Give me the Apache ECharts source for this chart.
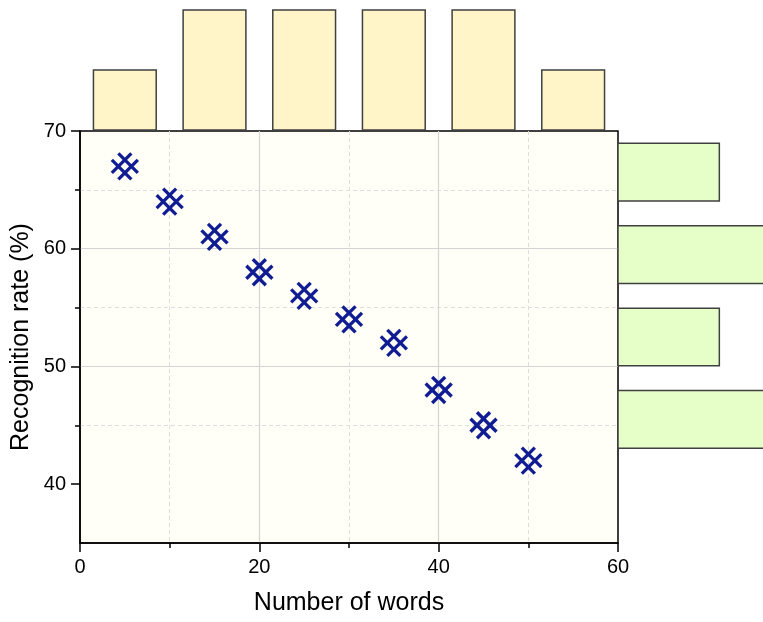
<!DOCTYPE html>
<html>
<head>
<meta charset="utf-8">
<script src="https://cdn.jsdelivr.net/npm/echarts@6/dist/echarts.min.js"></script>
<style>
  html, body { margin: 0; padding: 0; background: #ffffff; }
  #chart { width: 763px; height: 622px; }
</style>
</head>
<body>
<div id="chart"></div>
<script>
// Scatter data: recognition rate against vocabulary size
const words = [5, 10, 15, 20, 25, 30, 35, 40, 45, 50];
const rate  = [67, 64, 61, 58, 56, 54, 52, 48, 45, 42];

// Marginal histogram along x (bin edges and counts)
const xBinEdges = [0, 10, 20, 30, 40, 50, 60];
const xCounts   = [1, 2, 2, 2, 2, 1];

// Marginal histogram along y (bin edges and counts)
const yBinEdges = [42, 49, 56, 63, 70];
const yCounts   = [3, 2, 3, 2];

// Axis ticks
const xTicks = [0, 20, 40, 60];
const yTicks = [40, 50, 60, 70];
const yMinorTicks = [45, 55, 65];

const FONT = '"Liberation Sans", Arial, sans-serif';
const BAR_FRACTION = 0.7;

const scatterData = words.map((w, i) => [w, rate[i]]);
const xHistData = xCounts.map((c, i) => [xBinEdges[i], xBinEdges[i + 1], c]);
const yHistData = yCounts.map((c, i) => [yBinEdges[i], yBinEdges[i + 1], c]);

// Lattice marker: two strokes in each diagonal direction
function renderMarker(params, api) {
  const p = api.coord([api.value(0), api.value(1)]);
  const h = 13, d = 6.5;
  const segs = [
    [[-h + d, -h], [h, h - d]],
    [[-h, -h + d], [h - d, h]],
    [[h - d, -h], [-h, h - d]],
    [[h, -h + d], [-h + d, h]]
  ];
  return {
    type: 'group',
    children: segs.map(s => ({
      type: 'line',
      shape: { x1: p[0] + s[0][0], y1: p[1] + s[0][1], x2: p[0] + s[1][0], y2: p[1] + s[1][1] },
      style: { stroke: '#101c92', lineWidth: 3.3, lineCap: 'butt' }
    }))
  };
}

function renderTopBar(params, api) {
  const lo = api.value(0), hi = api.value(1), c = api.value(2);
  const mid = (lo + hi) / 2, half = (hi - lo) * BAR_FRACTION / 2;
  const a = api.coord([mid - half, c]);
  const b = api.coord([mid + half, 0]);
  return {
    type: 'rect',
    shape: { x: a[0], y: a[1], width: b[0] - a[0], height: b[1] - a[1] },
    style: { fill: '#FFF5C8', stroke: '#404040', lineWidth: 1.5 }
  };
}

function renderSideBar(params, api) {
  const lo = api.value(0), hi = api.value(1), c = api.value(2);
  const mid = (lo + hi) / 2, half = (hi - lo) * BAR_FRACTION / 2;
  const a = api.coord([0, mid + half]);
  const b = api.coord([c, mid - half]);
  return {
    type: 'rect',
    shape: { x: a[0], y: a[1], width: b[0] - a[0], height: b[1] - a[1] },
    style: { fill: '#E6FFC8', stroke: '#404040', lineWidth: 1.5 }
  };
}

const chart = echarts.init(document.getElementById('chart'), null, { renderer: 'canvas' });

const option = {
  animation: false,
  backgroundColor: '#ffffff',
  textStyle: { fontFamily: FONT },
  grid: [
    { left: 80, top: 131, width: 538, height: 412, show: true, outerBoundsMode: 'none',
      backgroundColor: '#FFFEF7', borderColor: '#000000', borderWidth: 1.5 },
    { left: 80, top: 10, width: 538, height: 120, outerBoundsMode: 'none' },
    { left: 618, top: 131, width: 152, height: 412, outerBoundsMode: 'none' }
  ],
  xAxis: [
    {
      gridIndex: 0, type: 'value', min: 0, max: 60, interval: 20,
      name: 'Number of words', nameLocation: 'middle', nameGap: 48,
      nameTextStyle: { fontFamily: FONT, fontSize: 25, color: '#000' },
      axisLine: { show: true, lineStyle: { color: '#000', width: 1.5 } },
      axisTick: { show: true, inside: false, length: 9, lineStyle: { color: '#000', width: 1.5 } },
      minorTick: { show: true, splitNumber: 2, length: 5, lineStyle: { color: '#000', width: 1.5 } },
      axisLabel: { fontFamily: FONT, fontSize: 20, color: '#000', margin: 14,
        customValues: xTicks },
      splitLine: { show: true, showMinLine: false, showMaxLine: false,
        lineStyle: { color: '#d4d4d4', width: 1.2 } },
      minorSplitLine: { show: true, lineStyle: { color: '#dedede', width: 1, type: [4, 3] } }
    },
    { gridIndex: 1, type: 'value', min: 0, max: 60, show: false },
    { gridIndex: 2, type: 'value', min: 0, max: 3, show: false }
  ],
  yAxis: [
    {
      gridIndex: 0, type: 'value', min: 35, max: 70, interval: 5,
      name: 'Recognition rate (%)', nameLocation: 'middle', nameGap: 46,
      nameMoveOverlap: false,
      nameTextStyle: { fontFamily: FONT, fontSize: 25, color: '#000' },
      axisLine: { show: true, lineStyle: { color: '#000', width: 1.5 } },
      axisTick: { show: true, inside: false, length: 9, customValues: yTicks,
        lineStyle: { color: '#000', width: 1.5 } },
      axisLabel: { fontFamily: FONT, fontSize: 20, color: '#000', margin: 14,
        customValues: yTicks },
      splitLine: { show: true, showMinLine: false, showMaxLine: false,
        lineStyle: { color: '#d4d4d4', width: 1.2 } }
    },
    {
      gridIndex: 0, type: 'value', min: 35, max: 70, interval: 5, position: 'left',
      axisLine: { show: false },
      axisTick: { show: true, inside: false, length: 5, customValues: yMinorTicks,
        lineStyle: { color: '#000', width: 1.5 } },
      axisLabel: { show: false },
      splitLine: { show: true, lineStyle: { color: '#dedede', width: 1, type: [4, 3] } }
    },
    { gridIndex: 1, type: 'value', min: 0, max: 2, show: false },
    { gridIndex: 2, type: 'value', min: 35, max: 70, show: false }
  ],
  series: [
    {
      type: 'custom', name: 'x histogram', xAxisIndex: 1, yAxisIndex: 2,
      data: xHistData, renderItem: renderTopBar, clip: false,
      encode: { x: [0, 1], y: 2 }
    },
    {
      type: 'custom', name: 'y histogram', xAxisIndex: 2, yAxisIndex: 3,
      data: yHistData, renderItem: renderSideBar, clip: false,
      encode: { x: 2, y: [0, 1] }
    },
    {
      type: 'custom', name: 'Recognition rate', xAxisIndex: 0, yAxisIndex: 0,
      data: scatterData, renderItem: renderMarker, z: 5,
      encode: { x: 0, y: 1 }
    }
  ]
};

chart.setOption(option);
</script>
</body>
</html>
